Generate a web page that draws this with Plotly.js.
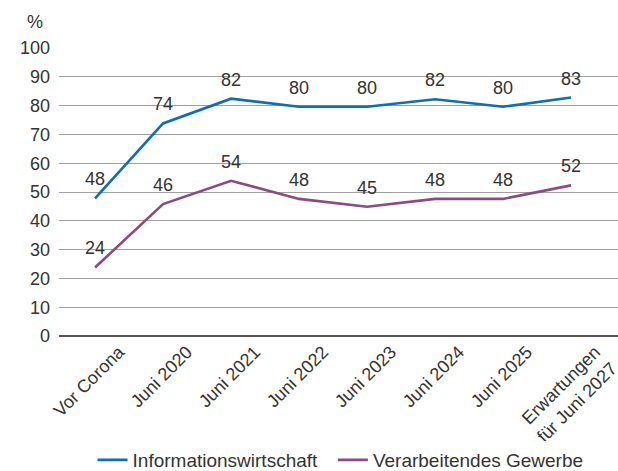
<!DOCTYPE html>
<html>
<head>
<meta charset="utf-8">
<script src="https://cdn.plot.ly/plotly-3.0.1.min.js"></script>
<style>html,body{margin:0;padding:0;background:#fff}#chart{width:618px;height:471px}</style>
</head>
<body>
<div id="chart"></div>
<script>
const categories = ["Vor Corona", "Juni 2020", "Juni 2021", "Juni 2022", "Juni 2023", "Juni 2024", "Juni 2025", "Erwartungen<br>für Juni 2027"];
const infoValues = [47.8, 73.8, 82.4, 79.6, 79.6, 82.2, 79.6, 82.8];
const infoLabels = ["48", "74", "82", "80", "80", "82", "80", "83"];
const vgValues = [23.8, 45.8, 53.9, 47.6, 44.9, 47.6, 47.6, 52.3];
const vgLabels = ["24", "46", "54", "48", "45", "48", "48", "52"];
const seriesNames = ["Informationswirtschaft\u00a0\u00a0", "Verarbeitendes Gewerbe"];
const yTicks = [0, 10, 20, 30, 40, 50, 60, 70, 80, 90, 100];

const blue = "#0a6ebd", purple = "#8c4a80";
const fontFam = "Liberation Sans, Arial, sans-serif";
const textColor = "#333333";
const fs = 18;

const traces = [
  {x: categories, y: infoValues, name: seriesNames[0], type: "scatter", mode: "lines",
   line: {color: blue, width: 2.6}, hoverinfo: "skip"},
  {x: categories, y: vgValues, name: seriesNames[1], type: "scatter", mode: "lines",
   line: {color: purple, width: 2.6}, hoverinfo: "skip"}
];

const annotations = [];
function addLabels(vals, labels) {
  vals.forEach((v, i) => annotations.push({
    x: categories[i], y: v, xref: "x", yref: "y", text: labels[i], showarrow: false,
    yshift: 19, xanchor: "center", yanchor: "middle",
    font: {family: fontFam, size: fs, color: textColor}
  }));
}
addLabels(infoValues, infoLabels);
addLabels(vgValues, vgLabels);
annotations.push({x: 0, y: 1, xref: "paper", yref: "paper", xanchor: "center", yanchor: "bottom",
  xshift: -24, yshift: 14, text: "%", showarrow: false, font: {family: fontFam, size: fs, color: textColor}});

const layout = {
  width: 618, height: 471,
  margin: {l: 59, r: 0, t: 48, b: 135, autoexpand: false},
  paper_bgcolor: "#ffffff", plot_bgcolor: "#ffffff",
  font: {family: fontFam, size: fs, color: textColor},
  showlegend: true,
  legend: {orientation: "h", x: 0.06, xanchor: "left", yref: "container", y: 0.0234, yanchor: "middle",
    font: {family: fontFam, size: 19, color: textColor}, itemwidth: 30, traceorder: "normal"},
  xaxis: {type: "category", range: [-0.53, 7.69], showgrid: false, zeroline: false, automargin: false,
    showline: false, ticks: "", tickangle: -45, ticklabelshift: 24, ticklabelstandoff: 1,
    tickfont: {family: fontFam, size: fs, color: textColor}, fixedrange: true},
  yaxis: {range: [0, 100], tickvals: yTicks, ticktext: yTicks.map(String), showgrid: true, automargin: false,
    gridcolor: "#a0a0a0", gridwidth: 1, zeroline: true, zerolinecolor: "#555555", zerolinewidth: 2,
    showline: false, ticks: "", ticklabelstandoff: 8,
    tickfont: {family: fontFam, size: fs, color: textColor}, fixedrange: true},
  annotations: annotations
};

Plotly.newPlot("chart", traces, layout, {displayModeBar: false, staticPlot: true});
</script>
</body>
</html>
